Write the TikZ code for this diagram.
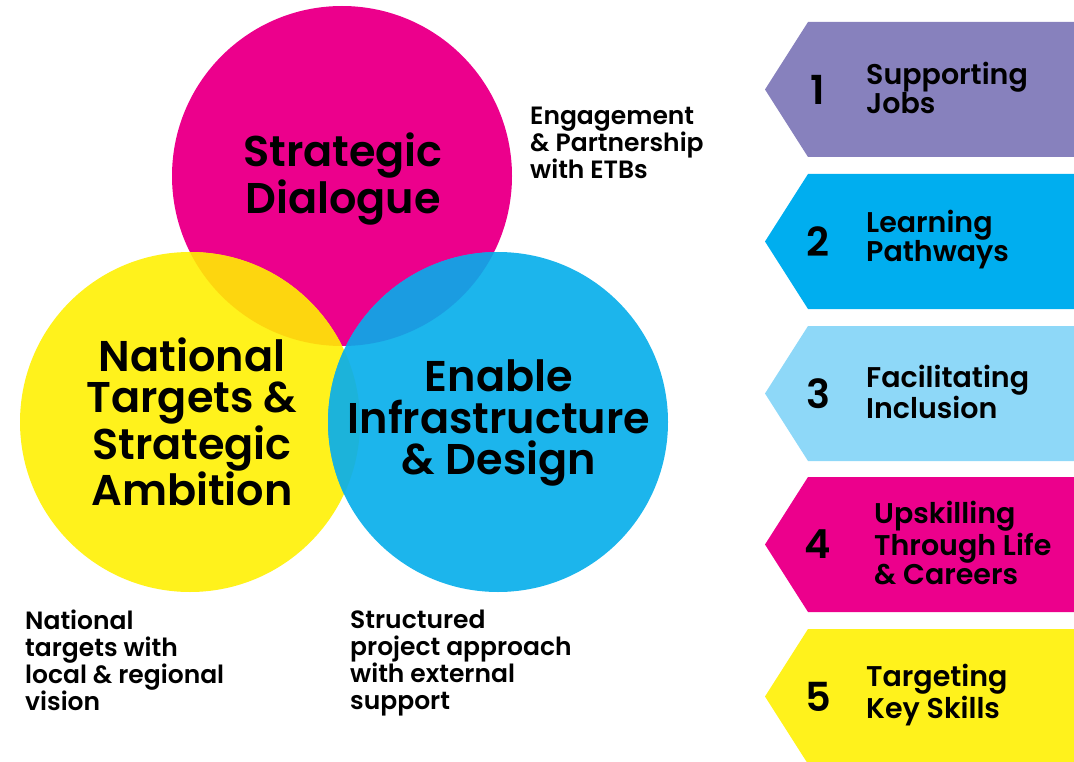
\documentclass[tikz,border=0pt]{standalone}
\usepackage{fontspec}
\setmainfont{Poppins}[UprightFont=* SemiBold]
\definecolor{dialoguepink}{HTML}{EC008C}
\definecolor{targetyellow}{HTML}{FFF21C}
\definecolor{enableblue}{HTML}{1CB5EC}
\definecolor{pinkyellow}{HTML}{FDD60F}
\definecolor{pinkblue}{HTML}{1B9CE1}
\definecolor{yellowblue}{HTML}{1CB3DA}
\definecolor{jobspurple}{HTML}{8781BD}
\definecolor{pathblue}{HTML}{00AEEF}
\definecolor{inclusionblue}{HTML}{8ED8F8}
\tikzset{
  bigtext/.style={align=center, inner sep=0pt, font=\fontsize{43}{41.5}\selectfont},
  notetext/.style={align=left, inner sep=0pt, anchor=north west, font=\fontsize{25}{27}\selectfont},
  numtext/.style={inner sep=0pt, font=\fontsize{40}{40}\selectfont},
  tagtext/.style={align=left, inner sep=0pt, anchor=west, font=\fontsize{28.5}{29}\selectfont}
}
\begin{document}
\begin{tikzpicture}[x=1pt, y=-1pt]
   \useasboundingbox (0,0) rectangle (1074,762);
   \coordinate (dialogueC) at (342,176);
   \coordinate (nationalC) at (190,422);
   \coordinate (enableC) at (498,422);
   % the three circles
   \fill[dialoguepink] (dialogueC) circle[radius=170pt];
   \fill[targetyellow] (nationalC) circle[radius=170pt];
   \fill[enableblue] (enableC) circle[radius=170pt];
   \begin{scope}
      \clip (dialogueC) circle[radius=170pt];
      \fill[pinkyellow] (nationalC) circle[radius=170pt];
      \fill[pinkblue] (enableC) circle[radius=170pt];
   \end{scope}
   \begin{scope}
      \clip (nationalC) circle[radius=170pt];
      \fill[yellowblue] (enableC) circle[radius=170pt];
   \end{scope}
   \node[bigtext] (dialogue) at (343,179) {Strategic\\Dialogue};
   \node[bigtext] (national) at (192,422) {National\\Targets \&\\Strategic\\Ambition};
   \node[bigtext] (enable) at (499,423) {Enable\\Infrastructure\\\& Design};
   \node[notetext] (engage) at (530,107) {Engagement\\\& Partnership\\with ETBs};
   \node[notetext] (targetsnote) at (25,610) {National\\targets with\\local \& regional\\vision};
   \node[notetext] (projectnote) at (350,610) {Structured\\project approach\\with external\\support};
   % the five arrows
   \foreach \n/\top/\col/\lbl/\dx in {1/22/jobspurple/{Supporting\\Jobs}/0,
                                     2/174/pathblue/{Learning\\Pathways}/0,
                                     3/326/inclusionblue/{Facilitating\\Inclusion}/0,
                                     4/477/dialoguepink/{Upskilling\\Through Life\\\& Careers}/8,
                                     5/629/targetyellow/{Targeting\\Key Skills}/0} {
      \fill[\col] (808,\top) -- (1074,\top) -- (1074,\top+135) -- (808,\top+135) -- (765,\top+67.5) -- cycle;
      \node[numtext] (num\n) at (818,\top+67.5) {\n};
      \node[tagtext] (tag\n) at (866+\dx,\top+66) {\lbl};
   }
\end{tikzpicture}
\end{document}
